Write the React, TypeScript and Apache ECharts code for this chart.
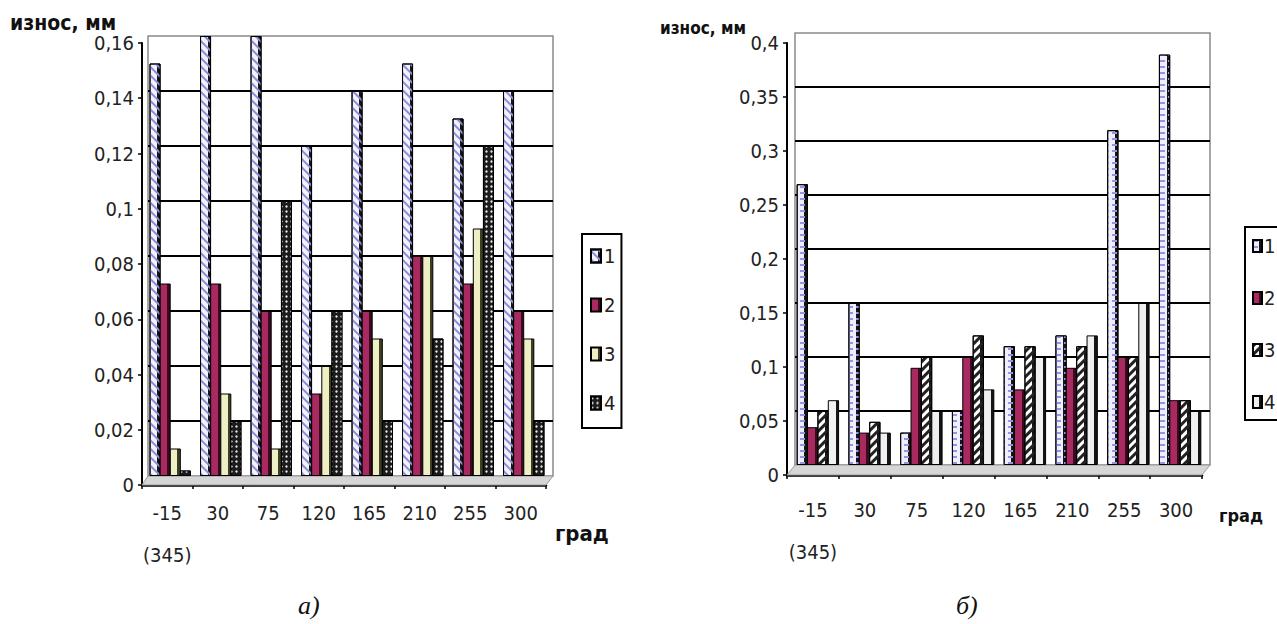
import React, { useEffect, useRef } from "react";
import * as echarts from "echarts";

// ---- data ----
const categories = ["-15\n(345)", "30", "75", "120", "165", "210", "255", "300"];
const legendLabels = ["1", "2", "3", "4"];
// chart a)
const wearA1 = [0.15, 0.16, 0.16, 0.12, 0.14, 0.15, 0.13, 0.14];
const wearA2 = [0.07, 0.07, 0.06, 0.03, 0.06, 0.08, 0.07, 0.06];
const wearA3 = [0.01, 0.03, 0.01, 0.04, 0.05, 0.08, 0.09, 0.05];
const wearA4 = [0.002, 0.02, 0.1, 0.06, 0.02, 0.05, 0.12, 0.02];
// chart б)
const wearB1 = [0.26, 0.15, 0.03, 0.05, 0.11, 0.12, 0.31, 0.38];
const wearB2 = [0.035, 0.03, 0.09, 0.1, 0.07, 0.09, 0.1, 0.06];
const wearB3 = [0.05, 0.04, 0.1, 0.12, 0.11, 0.11, 0.1, 0.06];
const wearB4 = [0.06, 0.03, 0.05, 0.07, 0.1, 0.12, 0.15, 0.05];
const yScaleA = { min: 0, max: 0.16, interval: 0.02 };
const yScaleB = { min: 0, max: 0.4, interval: 0.05 };
const yTitle = "износ, мм";
const xTitle = "град";
const panelA = "а)";
const panelB = "б)";

const NARROW =
  "'Liberation Sans Narrow', 'Arial Narrow', 'DejaVu Sans Condensed', 'Liberation Sans', sans-serif";
const SERIF = "'Liberation Serif', 'DejaVu Serif', serif";

const side = (c: string, dark = "#151515") =>
  new echarts.graphic.LinearGradient(0, 0, 1, 0, [
    { offset: 0, color: c },
    { offset: 0.7, color: c },
    { offset: 0.7, color: dark },
    { offset: 1, color: dark },
  ]);

const fmt = (v: number) => String(Math.round(v * 100) / 100).replace(".", ",");

const styleA = [
  {
    color: side("#f2f2fd"),
    decal: { symbol: "rect", color: "#8c8cd8", dashArrayX: [1, 0], dashArrayY: [2, 4], rotation: Math.PI / 4 },
  },
  { color: side("#a82a60", "#3a0a1e"), decal: "none" },
  { color: side("#efefc6", "#3e3e22"), decal: "none" },
  {
    color: "#1c1c1c",
    decal: { symbol: "circle", symbolSize: 0.8, color: "#e6e6e6", dashArrayX: [3, 2], dashArrayY: [3, 2] },
  },
];
const styleB = [
  {
    color: side("#efeefc"),
    decal: { symbol: "rect", color: "#9494e2", dashArrayX: [5, 3], dashArrayY: [1.5, 4] },
  },
  { color: side("#a82a60", "#3a0a1e"), decal: "none" },
  {
    color: side("#ffffff"),
    decal: { symbol: "rect", color: "#222", dashArrayX: [1, 0], dashArrayY: [2.5, 3], rotation: -Math.PI / 4 },
  },
  { color: side("#f0f0f0"), decal: "none" },
];

function frontAxes(gi: number, scale: any, labelMargin: number, lineH: number, padTop: number) {
  const x = {
    type: "category",
    gridIndex: gi,
    data: categories,
    axisLine: { lineStyle: { color: "#000", width: 2.5 } },
    axisTick: { show: true, length: 4, lineStyle: { color: "#000", width: 1.5 } },
    axisLabel: {
      margin: labelMargin,
      lineHeight: lineH,
      fontSize: 20,
      fontFamily: NARROW,
      color: "#222",
      interval: 0,
    },
    splitLine: { show: false },
  };
  const y = {
    type: "value",
    gridIndex: gi,
    ...scale,
    axisLine: { show: true, lineStyle: { color: "#000", width: 2 } },
    axisTick: { show: true, length: 4, lineStyle: { color: "#000", width: 1.5 } },
    axisLabel: {
      margin: 8,
      fontSize: 20,
      fontFamily: NARROW,
      color: "#222",
      padding: [padTop, 0, 0, 0],
      formatter: fmt,
    },
    splitLine: { show: false },
  };
  return { x, y };
}

function wallAxes(gi: number, scale: any) {
  return {
    x: { type: "category", gridIndex: gi, data: categories, show: false },
    y: {
      type: "value",
      gridIndex: gi,
      ...scale,
      axisLine: { show: false },
      axisTick: { show: false },
      axisLabel: { show: false },
      splitLine: { show: true, showMinLine: false, showMaxLine: false, lineStyle: { color: "#000", width: 2 } },
    },
  };
}

function barAxes(gi: number, scale: any) {
  return {
    x: { type: "category", gridIndex: gi, data: categories, show: false },
    y: { type: "value", gridIndex: gi, ...scale, show: false },
  };
}

function barSeries(prefix: string, axisIdx: number, values: number[][], styles: any[], gap: string) {
  return values.map((vals, i) => ({
    type: "bar",
    name: prefix + legendLabels[i],
    xAxisIndex: axisIdx,
    yAxisIndex: axisIdx,
    data: vals,
    barGap: "-8%",
    barCategoryGap: gap,
    itemStyle: { ...styles[i], borderColor: "#000", borderWidth: 1 },
    emphasis: { disabled: true },
    z: 3,
  }));
}

const fA = frontAxes(0, yScaleA, 7, 42, 12);
const wA = wallAxes(1, yScaleA);
const bA = barAxes(2, yScaleA);
const fB = frontAxes(3, yScaleB, 14, 42, 8);
const wB = wallAxes(4, yScaleB);
const bB = barAxes(5, yScaleB);

const titleStyle = (size: number, extra: any = {}) => ({
  fontSize: size,
  fontFamily: NARROW,
  fontWeight: "bold",
  color: "#111",
  ...extra,
});

const option: any = {
  animation: false,
  backgroundColor: "#fff",
  title: [
    { text: yTitle, left: 10, top: 12, padding: 0, textStyle: titleStyle(21) },
    { text: yTitle, left: 660, top: 19, padding: 0, textStyle: titleStyle(17) },
    { text: xTitle, left: 555, top: 522, padding: 0, textStyle: titleStyle(22) },
    { text: xTitle, left: 1219, top: 506, padding: 0, textStyle: titleStyle(18) },
    {
      text: panelA,
      left: 298,
      top: 592,
      padding: 0,
      textStyle: { fontSize: 26, fontFamily: SERIF, fontStyle: "italic", fontWeight: "normal", color: "#111" },
    },
    {
      text: panelB,
      left: 956,
      top: 592,
      padding: 0,
      textStyle: { fontSize: 26, fontFamily: SERIF, fontStyle: "italic", fontWeight: "normal", color: "#111" },
    },
  ],
  legend: [
    {
      data: legendLabels.map((l) => "a" + l),
      orient: "vertical",
      left: 582,
      top: 234,
      icon: "rect",
      itemWidth: 10,
      itemHeight: 13,
      itemGap: 29,
      padding: [12, 6, 15, 8],
      borderColor: "#000",
      borderWidth: 2,
      selectedMode: false,
      formatter: (n: string) => n.slice(1),
      textStyle: { fontSize: 20, lineHeight: 20, fontFamily: NARROW, color: "#222", padding: [0, 0, 0, -2] },
    },
    {
      data: legendLabels.map((l) => "b" + l),
      orient: "vertical",
      left: 1245,
      top: 227,
      icon: "rect",
      itemWidth: 9,
      itemHeight: 12,
      itemGap: 32,
      padding: [9, 10, 8, 7],
      borderColor: "#000",
      borderWidth: 2,
      selectedMode: false,
      formatter: (n: string) => n.slice(1),
      textStyle: { fontSize: 20, lineHeight: 20, fontFamily: NARROW, color: "#222", padding: [0, 0, 0, -3] },
    },
  ],
  grid: [
    { left: 142, top: 43, width: 404, height: 442, show: false },
    { left: 148, top: 36, width: 405, height: 440, show: true, borderColor: "#8a8a8a", borderWidth: 1.5, backgroundColor: "transparent" },
    { left: 145, top: 36, width: 404, height: 440, show: false },
    { left: 787, top: 43, width: 415, height: 432, show: false },
    { left: 795, top: 33, width: 415, height: 432, show: true, borderColor: "#8a8a8a", borderWidth: 1.5, backgroundColor: "transparent" },
    { left: 792, top: 33, width: 414, height: 432, show: false },
  ],
  xAxis: [fA.x, wA.x, bA.x, fB.x, wB.x, bB.x],
  yAxis: [fA.y, wA.y, bA.y, fB.y, wB.y, bB.y],
  graphic: [
    {
      type: "polygon",
      z: 1,
      shape: { points: [[142, 485], [148, 476], [553, 476], [546, 485]] },
      style: { fill: "#d6d6d6", stroke: "#9a9a9a", lineWidth: 1 },
    },
    {
      type: "polygon",
      z: 1,
      shape: { points: [[787, 475], [795, 465], [1210, 465], [1202, 475]] },
      style: { fill: "#d6d6d6", stroke: "#9a9a9a", lineWidth: 1 },
    },
  ],
  series: [
    ...barSeries("a", 2, [wearA1, wearA2, wearA3, wearA4], styleA, "18%"),
    ...barSeries("b", 5, [wearB1, wearB2, wearB3, wearB4], styleB, "18%"),
  ],
};

export default function App() {
  const ref = useRef<HTMLDivElement>(null);
  useEffect(() => {
    const chart = echarts.init(ref.current!, null, { renderer: "svg" });
    chart.setOption(option);
    return () => chart.dispose();
  }, []);
  return (
    <div
      ref={ref}
      style={{ position: "fixed", left: 0, top: 0, width: 1277, height: 624, background: "#fff" }}
    />
  );
}
